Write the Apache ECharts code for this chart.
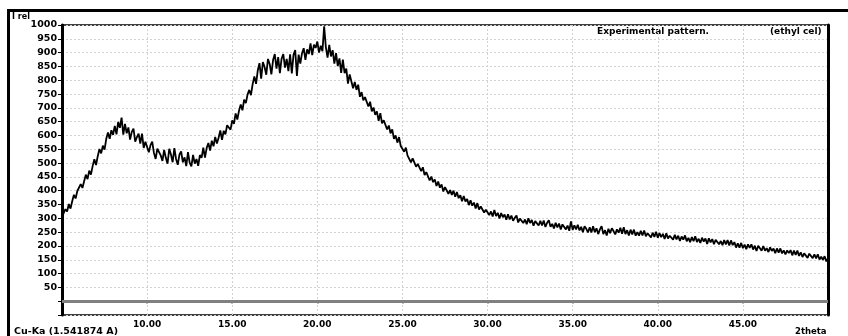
<!DOCTYPE html>
<html>
<head>
<meta charset="utf-8">
<script src="https://cdn.jsdelivr.net/npm/echarts@6/dist/echarts.min.js"></script>
<style>
  html, body { margin: 0; padding: 0; background: #fff; }
  #chart { width: 848px; height: 336px; }
</style>
</head>
<body>
<div id="chart"></div>
<script>
// 2theta scan: start, step, intensities (one row per degree)
var thetaStart = 5.0;
var thetaStep = 0.1;
var intensity = [
  305, 305, 333, 325, 352, 335, 362, 385, 372, 399,
  394, 424, 410, 434, 458, 442, 473, 458, 489, 514,
  493, 525, 551, 535, 563, 549, 588, 611, 588, 619,
  602, 635, 604, 649, 628, 665, 603, 642, 608, 629,
  585, 613, 625, 578, 594, 607, 571, 607, 555, 577,
  580, 539, 565, 578, 537, 515, 552, 559, 528, 508,
  548, 519, 498, 552, 531, 503, 554, 515, 494, 531,
  542, 503, 521, 489, 540, 502, 488, 530, 498, 515,
  490, 529, 519, 556, 520, 555, 573, 545, 581, 561,
  595, 571, 592, 618, 584, 617, 604, 637, 630, 621,
  655, 642, 680, 658, 690, 712, 691, 730, 717, 748,
  765, 746, 786, 814, 787, 835, 862, 806, 866, 848,
  820, 877, 859, 821, 873, 895, 842, 884, 826, 878,
  895, 846, 877, 833, 894, 825, 892, 909, 816, 893,
  860, 898, 916, 874, 912, 895, 933, 891, 929, 917,
  940, 900, 925, 905, 995, 920, 882, 928, 886, 909,
  860, 898, 851, 879, 827, 875, 826, 842, 788, 821,
  815, 771, 794, 765, 784, 740, 757, 727, 739, 738,
  705, 722, 687, 701, 675, 687, 653, 681, 644, 655,
  655, 622, 636, 608, 622, 588, 600, 574, 594, 562,
  568, 541, 556, 527, 534, 503, 517, 518, 487, 497,
  495, 471, 485, 457, 467, 469, 437, 451, 431, 441,
  417, 433, 411, 423, 397, 413, 416, 389, 402, 385,
  400, 378, 395, 373, 384, 362, 381, 361, 370, 348,
  365, 346, 357, 336, 355, 332, 343, 347, 321, 331,
  332, 312, 325, 307, 330, 308, 320, 299, 319, 304,
  314, 295, 315, 296, 310, 291, 302, 310, 285, 299,
  302, 283, 296, 279, 300, 283, 294, 273, 290, 297,
  274, 291, 274, 292, 269, 284, 293, 269, 280, 263,
  284, 267, 281, 260, 278, 285, 260, 274, 255, 289,
  258, 275, 260, 277, 256, 269, 250, 271, 262, 249,
  268, 249, 271, 250, 264, 243, 260, 272, 243, 257,
  238, 262, 246, 264, 254, 242, 260, 248, 266, 244,
  268, 243, 257, 238, 259, 242, 259, 237, 250, 237,
  255, 238, 256, 235, 246, 251, 231, 248, 233, 251,
  230, 247, 232, 244, 225, 246, 227, 237, 242, 223,
  240, 224, 237, 218, 234, 223, 238, 217, 229, 214,
  232, 217, 235, 214, 226, 211, 230, 216, 227, 207,
  228, 213, 225, 206, 222, 227, 206, 218, 203, 221,
  206, 221, 202, 220, 203, 214, 194, 209, 194, 211,
  192, 205, 188, 206, 193, 206, 187, 201, 182, 201,
  198, 183, 200, 183, 192, 178, 195, 182, 191, 174,
  191, 176, 191, 173, 184, 169, 184, 174, 185, 166,
  183, 168, 183, 164, 177, 160, 173, 176, 157, 172,
  171, 156, 170, 155, 170, 151, 161, 150, 163, 144,
  156
];
var yTicks = [50, 100, 150, 200, 250, 300, 350, 400, 450, 500, 550, 600, 650, 700, 750, 800, 850, 900, 950, 1000];

var points = intensity.map(function (v, i) {
  return [+(thetaStart + i * thetaStep).toFixed(2), v];
});

var myChart = echarts.init(document.getElementById('chart'));
var lblFont = { fontFamily: 'DejaVu Sans', fontWeight: 'bold', fontSize: 9, color: '#000' };

var option = {
  animation: false,
  grid: {
    left: 62, right: 20, top: 25, bottom: 21,
    show: true, borderColor: '#000', borderWidth: 1.5, backgroundColor: '#fff'
  },
  xAxis: {
    type: 'value', min: 5, max: 50, interval: 5,
    axisLine: { show: true, lineStyle: { color: '#000', width: 2 } },
    axisTick: { show: true, length: 2, lineStyle: { color: '#000', width: 2 } },
    axisLabel: Object.assign({}, lblFont, {
      margin: 5,
      formatter: function (v) { return (v === 5 || v === 50) ? '' : v.toFixed(2); }
    }),
    splitLine: { show: true, lineStyle: { color: '#d2d2d2', type: [2, 2], width: 1 } }
  },
  yAxis: [{
    type: 'value', min: -50, max: 1000, interval: 50,
    axisLine: { show: true, lineStyle: { color: '#000', width: 3 } },
    axisTick: { show: true, length: 4, lineStyle: { color: '#000' } },
    axisLabel: Object.assign({}, lblFont, {
      fontSize: 9.5, margin: 5,
      formatter: function (v) { return yTicks.indexOf(v) >= 0 ? v : ''; }
    }),
    splitLine: { show: true, lineStyle: { color: '#d2d2d2', type: [2, 2], width: 1 } }
  }, {
    type: 'value', min: -50, max: 1000, position: 'right',
    axisLine: { show: true, lineStyle: { color: '#000', width: 3 } },
    axisTick: { show: false }, axisLabel: { show: false }, splitLine: { show: false }
  }],
  series: [{
    type: 'line',
    data: points,
    showSymbol: false,
    lineStyle: { color: '#000', width: 1.8 },
    markLine: {
      silent: true, symbol: 'none', label: { show: false },
      lineStyle: { color: '#808080', width: 3, type: 'solid' },
      data: [{ yAxis: 0 }]
    }
  }],
  graphic: [
    { type: 'rect', shape: { x: 7, y: 9, width: 841, height: 3 }, style: { fill: '#000' } },
    { type: 'rect', shape: { x: 7, y: 9, width: 3, height: 327 }, style: { fill: '#000' } },
    { type: 'text', left: 12, top: 13, style: Object.assign({}, lblFont, { text: 'I rel', fontSize: 8 }) },
    { type: 'text', left: 597, top: 27, style: Object.assign({}, lblFont, { text: 'Experimental pattern.' }) },
    { type: 'text', left: 770, top: 27, style: Object.assign({}, lblFont, { text: '(ethyl cel)' }) },
    { type: 'text', left: 14, top: 327, style: Object.assign({}, lblFont, { text: 'Cu-Ka (1.541874 A)', fontSize: 9.5 }) },
    { type: 'text', left: 795, top: 327, style: Object.assign({}, lblFont, { text: '2theta', fontSize: 8.5 }) }
  ]
};

myChart.setOption(option);

window.addEventListener('resize', function () {
  myChart.resize();
});
</script>
</body>
</html>
